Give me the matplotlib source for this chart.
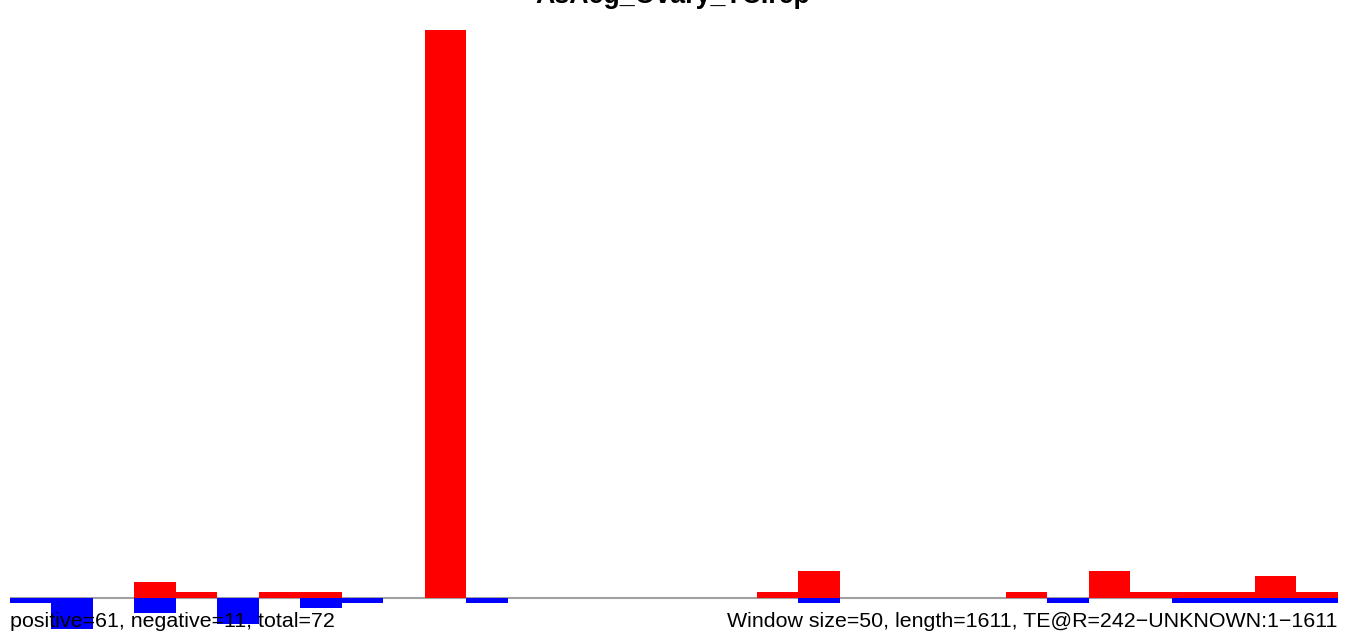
import matplotlib
matplotlib.use("Agg")
import matplotlib.pyplot as plt
import numpy as np

title = "AsAeg_Ovary_TCIrep"
window_size = 50
seq_length = 1611
positive_counts = [0, 0, 0, 3, 1, 0, 1, 1, 0, 0, 107, 0, 0, 0, 0, 0, 0,
                   0, 1, 5, 0, 0, 0, 0, 1, 0, 5, 1, 1, 1, 4, 1, 0]
negative_counts = [1, 6, 0, 3, 0, 5, 0, 2, 1, 0, 0, 1, 0, 0, 0, 0, 0,
                   0, 0, 1, 0, 0, 0, 0, 0, 1, 0, 0, 1, 1, 1, 1, 0]
left_label = "positive=61, negative=11, total=72"
right_label = "Window size=50, length=1611, TE@R=242\u2212UNKNOWN:1\u22121611"

plt.rcParams['font.family'] = ['Liberation Sans', 'DejaVu Sans']

W, H = 1355, 634
fig = plt.figure(figsize=(W / 100, H / 100), dpi=100)

unit = 5.3
base_px = 597.5
ax_left_px, ax_right_px = 10, 10 + 1337.1
ax = fig.add_axes([ax_left_px / W, 0, (ax_right_px - ax_left_px) / W, 1 - 30 / H])
ymin = -(H - base_px) / unit
ymax = (base_px - 30) / unit
ax.set_xlim(0, seq_length)
ax.set_ylim(ymin, ymax)
ax.axis('off')

starts = np.arange(len(positive_counts)) * window_size
ax.plot([0, 1600], [0, 0], color='#a0a0a0', lw=1.5, zorder=1, solid_capstyle='butt')
ax.bar(starts, positive_counts, width=window_size, align='edge', color='#ff0000', linewidth=0, zorder=2)
ax.bar(starts, [-v for v in negative_counts], width=window_size, align='edge', color='#0000ff', linewidth=0, zorder=2)

fig.text(673 / W, 1 - 3 / H, title, ha='center', va='baseline', fontsize=19.3, fontweight='bold')
fig.text(10 / W, 1 - 627 / H, left_label, ha='left', va='baseline', fontsize=15.4, zorder=5)
fig.text(1337 / W, 1 - 627 / H, right_label, ha='right', va='baseline', fontsize=15.4, zorder=5)

fig.savefig("out.png", dpi=100)
